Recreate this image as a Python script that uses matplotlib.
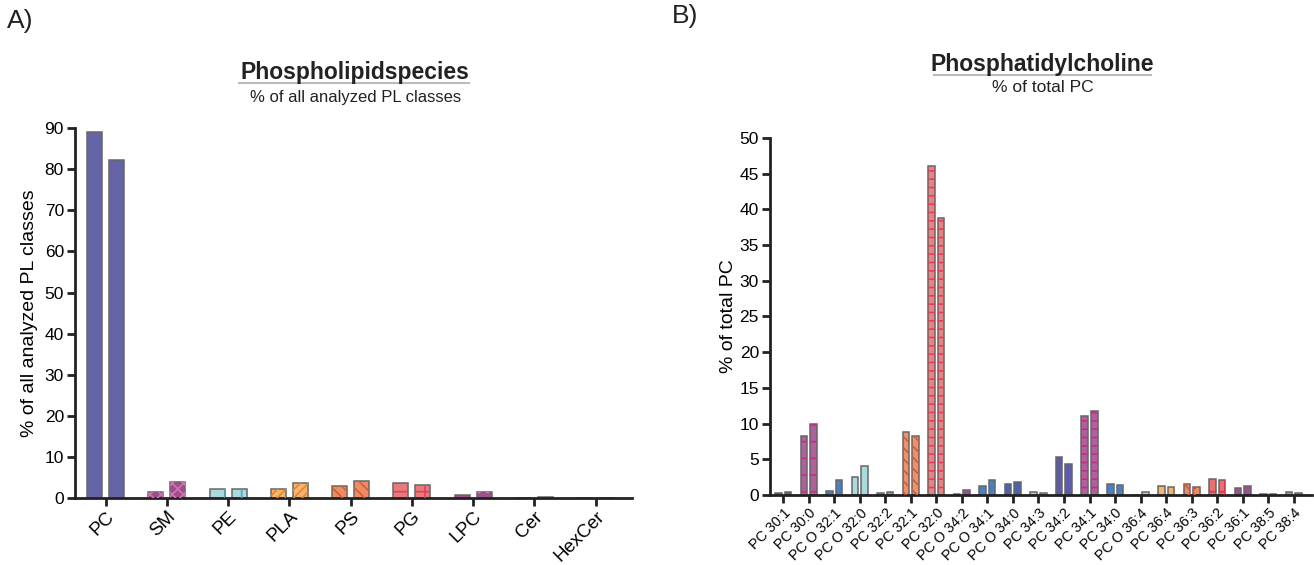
import numpy as np
import matplotlib
matplotlib.use("Agg")
import matplotlib.pyplot as plt
from matplotlib.lines import Line2D

plt.rcParams['font.family'] = ['Liberation Sans', 'DejaVu Sans']
plt.rcParams['hatch.linewidth'] = 1.2

# Panel A data
pl_classes = ['PC', 'SM', 'PE', 'PLA', 'PS', 'PG', 'LPC', 'Cer', 'HexCer']
pl_group1 = [89.1, 1.5, 2.2, 2.2, 3.0, 3.8, 0.9, 0.0, 0.0]
pl_group2 = [82.3, 4.0, 2.3, 3.8, 4.3, 3.3, 1.5, 0.4, 0.0]
pl_colors = ['#6464a6', '#a8488e', '#a8dade', '#f8b46c', '#f08a62', '#ea7a7a',
             '#a0508e', '#555577', '#555577']
pl_hatches = [None, 'xxx', '|', '////', '\\\\\\', '+', '..', None, None]
pl_hatch_colors = ['#6464a6', '#c878b0', '#40b0c0', '#e08830', '#d06030',
                   '#e04060', '#d080c0', '#555577', '#555577']

# Panel B data
pc_species = ['PC 30:1', 'PC 30:0', 'PC O 32:1', 'PC O 32:0', 'PC 32:2', 'PC 32:1',
              'PC 32:0', 'PC O 34:2', 'PC O 34:1', 'PC O 34:0', 'PC 34:3', 'PC 34:2',
              'PC 34:1', 'PC 34:0', 'PC O 36:4', 'PC 36:4', 'PC 36:3', 'PC 36:2',
              'PC 36:1', 'PC 38:5', 'PC 38:4']
pc_group1 = [0.32, 8.2, 0.6, 2.5, 0.32, 8.8, 46.0, 0.1, 1.25, 1.6, 0.45, 5.35,
             11.1, 1.5, 0.0, 1.3, 1.5, 2.3, 0.95, 0.15, 0.35]
pc_group2 = [0.45, 9.9, 2.15, 4.05, 0.4, 8.25, 38.8, 0.65, 2.15, 1.75, 0.32, 4.35,
             11.7, 1.35, 0.35, 1.15, 1.15, 2.1, 1.25, 0.15, 0.25]
pc_colors = ['#5c5ca2', '#b0609c', '#4a80c2', '#a8dade', '#c09060', '#f0906a',
             '#ea8282', '#a8488e', '#4a80c2', '#4a62b0', '#a8dade', '#5c5ca8',
             '#b0609c', '#4a80c2', '#a8dade', '#f8b46c', '#f08a62', '#ea7070',
             '#a0508e', '#555577', '#70b8c8']
pc_hatches = [None, '+', None, None, None, '\\\\\\', '--', None, None, None, None, None,
              '--', None, None, None, 'xx', '+', None, None, None]
pc_hatch_colors = ['#5c5ca2', '#c03088', '#4a80c2', '#a8dade', '#c09060', '#c86040',
                   '#e04060', '#a8488e', '#4a80c2', '#4a62b0', '#a8dade', '#5c5ca8',
                   '#c03088', '#4a80c2', '#a8dade', '#f8b46c', '#e05040', '#e03050',
                   '#a0508e', '#555577', '#70b8c8']


def draw_bars(ax, values1, values2, colors, hatches, hcolors, width, offset):
    x = np.arange(len(values1))
    for vals, sign in ((values1, -1), (values2, 1)):
        ax.bar(x + sign * offset, vals, width=width, color=colors,
               edgecolor='#666666', linewidth=1.1, zorder=2)
        for xi, v, h, hc in zip(x, vals, hatches, hcolors):
            if h:
                ax.bar(xi + sign * offset, v, width=width, color='none',
                       edgecolor=hc, hatch=h, linewidth=0, zorder=3)


def style_axes(ax):
    for s in ('top', 'right'):
        ax.spines[s].set_visible(False)
    for s in ('left', 'bottom'):
        ax.spines[s].set_linewidth(2)
        ax.spines[s].set_color('#222222')
    ax.tick_params(axis='both', width=2, length=6, color='#222222',
                   labelsize=12.5, direction='out', pad=2)


fig = plt.figure(figsize=(13.14, 5.65), dpi=100)

# Panel A
ax1 = fig.add_axes([0.0571, 0.118, 0.4237, 0.6554])
draw_bars(ax1, pl_group1, pl_group2, pl_colors, pl_hatches, pl_hatch_colors, 0.245, 0.18)
style_axes(ax1)
ax1.set_xlim(-0.5, 8.59)
ax1.set_ylim(0, 90)
ax1.set_yticks(np.arange(0, 91, 10))
ax1.set_xticks(np.arange(len(pl_classes)))
ax1.set_xticklabels(pl_classes, rotation=45, ha='right', rotation_mode='anchor', fontsize=13.5)
ax1.tick_params(axis='x', pad=1)
ax1.set_ylabel('% of all analyzed PL classes', fontsize=14, labelpad=5)

# Panel B
ax2 = fig.add_axes([0.586, 0.1239, 0.4125, 0.632])
draw_bars(ax2, pc_group1, pc_group2, pc_colors, pc_hatches, pc_hatch_colors, 0.256, 0.187)
style_axes(ax2)
ax2.set_xlim(-0.52, 20.72)
ax2.set_ylim(0, 50)
ax2.set_yticks(np.arange(0, 51, 5))
ax2.set_xticks(np.arange(len(pc_species)))
ax2.set_xticklabels(pc_species, rotation=45, ha='right', rotation_mode='anchor', fontsize=10.3)
ax2.tick_params(axis='x', pad=2)
ax2.set_ylabel('% of total PC', fontsize=14, labelpad=2)

# Titles and panel labels
fig.text(0.2705, 0.871, 'Phospholipidspecies', ha='center', va='center',
         fontsize=16.5, fontweight='bold', color='#222222')
fig.text(0.2705, 0.828, '% of all analyzed PL classes', ha='center', va='center',
         fontsize=12, color='#222222')
fig.add_artist(Line2D([0.182, 0.357], [0.853, 0.853], color='#bbbbbb', lw=1.5))

fig.text(0.7935, 0.885, 'Phosphatidylcholine', ha='center', va='center',
         fontsize=16.5, fontweight='bold', color='#222222')
fig.text(0.7935, 0.846, '% of total PC', ha='center', va='center',
         fontsize=12.5, color='#222222')
fig.add_artist(Line2D([0.711, 0.876], [0.867, 0.867], color='#bbbbbb', lw=1.5))

fig.text(0.005, 0.962, 'A)', ha='left', va='center', fontsize=19, color='#222222')
fig.text(0.511, 0.972, 'B)', ha='left', va='center', fontsize=19, color='#222222')

fig.savefig('out.png', dpi=100)
